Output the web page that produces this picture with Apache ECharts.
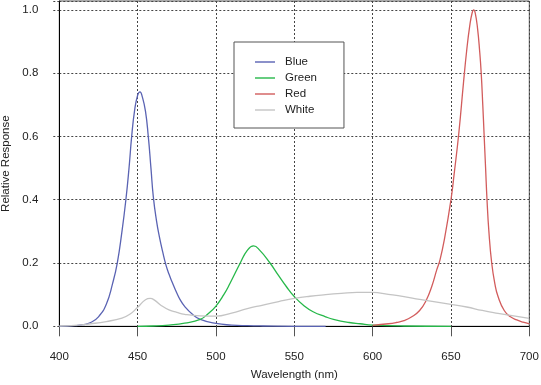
<!DOCTYPE html>
<html><head><meta charset="utf-8">
<script src="https://cdn.jsdelivr.net/npm/echarts@6/dist/echarts.min.js"></script>
<style>html,body{margin:0;padding:0;background:#fff}#c{width:541px;height:385px}</style>
</head><body><div id="c"></div>
<script>
const xTicks = [400, 450, 500, 550, 600, 650, 700];
const yTicks = [0, 0.2, 0.4, 0.6, 0.8, 1.0];

const blueWl  = [400,410,415,420,425,430,434,437,440,442.5,444.5,446.2,448,450,451.5,453,455,456.8,458.5,460,462,464,466,468,470,472,475,477,480,485,490,500,510,520,530,550,570];
const blueVal = [0,0.002,0.005,0.012,0.03,0.07,0.135,0.2,0.3,0.4,0.5,0.6,0.68,0.73,0.741,0.725,0.68,0.6,0.5,0.41,0.335,0.28,0.235,0.195,0.165,0.14,0.105,0.085,0.063,0.038,0.022,0.009,0.004,0.002,0.001,0,0];

const greenWl  = [450,460,470,480,490,495,500,505,509,515.5,520,524,528,534.5,540,545,550,556,562,570,575,585,592,600,620,650];
const greenVal = [0,0.001,0.004,0.01,0.022,0.04,0.064,0.1,0.136,0.2,0.24,0.254,0.24,0.2,0.16,0.125,0.094,0.066,0.046,0.03,0.022,0.012,0.008,0.004,0.001,0];

const redWl  = [600,610,615,620,625,630,634,638,641,643,646,650,652,655,658,660,662,663.5,664.5,665.5,667,668.3,669.3,670.3,671.2,672.1,673,674.2,676,678,680,684,688,692,696,700];
const redVal = [0.003,0.008,0.012,0.018,0.03,0.05,0.08,0.13,0.18,0.21,0.28,0.40,0.48,0.61,0.77,0.87,0.95,0.99,1.0,0.99,0.94,0.87,0.8,0.7,0.6,0.5,0.4,0.3,0.2,0.135,0.095,0.05,0.03,0.02,0.013,0.008];

const whiteWl  = [400,410,420,430,440,445,450,455,458,461,465,470,475,480,490,500,510,520,530,540,550,560,570,580,590,600,610,620,630,640,650,660,670,680,690,700];
const whiteVal = [0.001,0.003,0.008,0.015,0.026,0.038,0.06,0.084,0.088,0.082,0.066,0.052,0.044,0.038,0.033,0.032,0.042,0.056,0.067,0.078,0.088,0.095,0.1,0.104,0.107,0.107,0.101,0.094,0.085,0.077,0.069,0.061,0.05,0.041,0.033,0.025];

const names  = ['Blue', 'Green', 'Red', 'White'];
const colors = ['#5a63b3', '#27b84a', '#d25c5c', '#c4c4c4'];
const zip = (a, b) => a.map((x, i) => [x, b[i]]);
const seriesData = [zip(blueWl, blueVal), zip(greenWl, greenVal), zip(redWl, redVal), zip(whiteWl, whiteVal)];

const font = 'Liberation Sans, Arial, sans-serif';
const chart = echarts.init(document.getElementById('c'), null, {renderer: 'canvas'});
chart.setOption({
  animation: false,
  grid: {left: 59.3, right: 11.7, top: 1, bottom: 58.7, show: true, borderColor: '#555', borderWidth: 1,
    backgroundColor: 'transparent', containLabel: false, outerBoundsMode: 'none'},
  legend: {
    orient: 'vertical', left: 234, top: 42,
    padding: [13, 27, 11, 21],
    backgroundColor: '#fff', borderColor: '#555', borderWidth: 1,
    icon: 'rect', itemWidth: 20, itemHeight: 2, itemGap: 2,
    itemStyle: {opacity: 0.7},
    textStyle: {fontFamily: font, fontSize: 11.5, color: '#222', lineHeight: 14, padding: [0,0,0,5]},
    data: names
  },
  xAxis: {
    type: 'value', min: xTicks[0], max: xTicks[xTicks.length - 1], interval: 50,
    name: 'Wavelength (nm)', nameLocation: 'middle', nameGap: 43,
    nameTextStyle: {fontFamily: font, fontSize: 11.5, color: '#222'},
    axisLine: {show: true, onZero: false, lineStyle: {color: '#000', width: 1}},
    axisTick: {show: true, inside: false, length: 10, lineStyle: {color: '#555'}},
    axisLabel: {fontFamily: font, fontSize: 11.5, color: '#222', margin: 25},
    splitLine: {show: true, lineStyle: {type: [2, 2], color: '#444', width: 1}}
  },
  yAxis: {
    type: 'value', min: 0, max: 1.028, interval: 0.2,
    name: 'Relative Response', nameLocation: 'middle', nameGap: 46.5,
    nameTextStyle: {fontFamily: font, fontSize: 11.5, color: '#222'},
    axisLine: {show: true, lineStyle: {color: '#000', width: 1}},
    axisTick: {show: true, inside: false, length: 6, lineStyle: {type: [2, 2], color: '#444'}},
    axisLabel: {fontFamily: font, fontSize: 11.5, color: '#222', margin: 21,
      formatter: v => yTicks.some(t => Math.abs(t - v) < 1e-6) ? v.toFixed(1) : ''},
    splitLine: {show: true, lineStyle: {type: [2, 2], color: '#444', width: 1}}
  },
  series: names.map((n, i) => ({
    name: n, type: 'line', data: seriesData[i], showSymbol: false, symbol: 'none',
    smooth: 0.5,
    lineStyle: {color: colors[i], width: 1.3}, itemStyle: {color: colors[i]}
  }))
});
</script></body></html>
